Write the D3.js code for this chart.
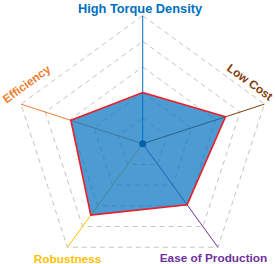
<!DOCTYPE html>
<html>
<head>
<meta charset="utf-8">
<script src="https://cdn.jsdelivr.net/npm/d3@7"></script>
<style>
  body { margin: 0; background: #fff; }
  text { font-family: "Liberation Sans", Arial, sans-serif; font-weight: bold; }
</style>
</head>
<body>
<div id="chart"></div>
<script>
// axes in clockwise order, starting at the top
const axes = ["High Torque Density", "Low Cost", "Ease of Production", "Robustness", "Efficiency"];
const axisColors = ["#0070c0", "#843c0c", "#7030a0", "#ffc000", "#ed7d31"];
const scores = [4, 6.8, 5.9, 6.9, 5.9];
const gridLevels = [2, 4, 6, 8, 10];

const width = 276, height = 264;
const cx = 142.7, cy = 143.7, R = 128;

const svg = d3.select("#chart").append("svg")
  .attr("width", width)
  .attr("height", height);

const g = svg.append("g").attr("transform", "translate(" + cx + "," + cy + ")");

const r = d3.scaleLinear().domain([0, 10]).range([0, R]);
const angle = d3.scalePoint().domain(d3.range(axes.length + 1)).range([0, 2 * Math.PI]);

const radial = d3.lineRadial()
  .angle((d, i) => angle(i % axes.length))
  .radius(d => r(d))
  .curve(d3.curveLinearClosed);

// dashed pentagon grid
g.selectAll(".grid")
  .data(gridLevels)
  .join("path")
  .attr("class", "grid")
  .attr("d", lv => radial(axes.map(() => lv)))
  .style("fill", "none")
  .style("stroke", "#c4c4c4")
  .style("stroke-width", 1)
  .style("stroke-dasharray", "5,4");

// coloured spokes
function pt(i, v) {
  const a = angle(i);
  return [Math.sin(a) * r(v), -Math.cos(a) * r(v)];
}

g.selectAll(".spoke")
  .data(axes)
  .join("line")
  .attr("class", "spoke")
  .attr("x1", 0).attr("y1", 0)
  .attr("x2", (d, i) => pt(i, 10)[0])
  .attr("y2", (d, i) => pt(i, 10)[1])
  .style("stroke", (d, i) => axisColors[i])
  .style("stroke-width", 1);

g.append("circle")
  .attr("r", 3.5)
  .style("fill", "#0a3d78");

// the score area
g.append("path")
  .attr("d", radial(scores))
  .style("fill", "#0070c0")
  .style("fill-opacity", 0.7)
  .style("stroke", "#ee1c25")
  .style("stroke-width", 1.6)
  .style("stroke-linejoin", "miter");

// axis labels
const labels = [
  { x: 140, y: 13, rot: 0, size: 12.8 },
  { x: 250, y: 82, rot: 36, size: 11.8 },
  { x: 213.5, y: 261.5, rot: 0, size: 11.8 },
  { x: 67.5, y: 262.5, rot: 0, size: 11.8 },
  { x: 26.5, y: 84, rot: -36, size: 11.8 }
];

svg.selectAll(".label")
  .data(axes)
  .join("text")
  .attr("class", "label")
  .attr("transform", (d, i) => "translate(" + labels[i].x + "," + labels[i].y + ") rotate(" + labels[i].rot + ")")
  .attr("dy", (d, i) => labels[i].rot ? "0.35em" : 0)
  .style("text-anchor", "middle")
  .style("font-size", (d, i) => labels[i].size + "px")
  .style("fill", (d, i) => axisColors[i])
  .text(d => d);
</script>
</body>
</html>
